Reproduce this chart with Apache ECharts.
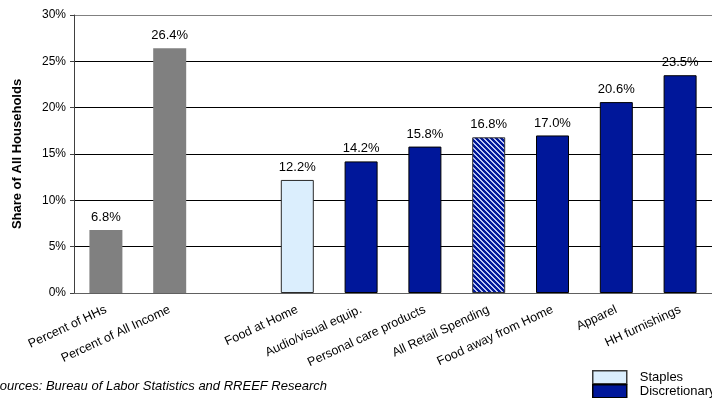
<!DOCTYPE html>
<html>
<head>
<meta charset="utf-8">
<script src="https://cdn.jsdelivr.net/npm/echarts@6/dist/echarts.min.js"></script>
<style>
  html, body { margin: 0; padding: 0; background: #fff; }
  #chart { width: 712px; height: 398px; }
</style>
</head>
<body>
<div id="chart"></div>
<script>
// Categories along the x axis (blank slot separates the benchmark bars)
const categories = [
  'Percent of HHs', 'Percent of All Income', '',
  'Food at Home', 'Audio/visual equip.', 'Personal care products',
  'All Retail Spending', 'Food away from Home', 'Apparel', 'HH furnishings'
];
// Share values (%) per group; '-' marks slots a group does not fill
const benchmarkValues     = [6.8, 26.4, '-', '-', '-', '-', '-', '-', '-', '-'];
const staplesValues       = ['-', '-', '-', 12.2, '-', '-', '-', '-', '-', '-'];
const discretionaryValues = ['-', '-', '-', '-', 14.2, 15.8, '-', 17.0, 20.6, 23.5];
const allRetailValues     = ['-', '-', '-', '-', '-', '-', 16.8, '-', '-', '-'];
const yTicks = [0, 5, 10, 15, 20, 25, 30];

const FONT = '"Liberation Sans", Arial, sans-serif';
const NAVY = '#00179a';

// Diagonal hatch for the all-retail bar
function hatchPattern() {
  const c = document.createElement('canvas');
  c.width = 5; c.height = 5;
  const ctx = c.getContext('2d');
  for (let x = 0; x < 5; x++) {
    for (let y = 0; y < 5; y++) {
      const k = ((x - y) % 5 + 5) % 5;
      ctx.fillStyle = k < 2 ? '#bcc6f2' : NAVY;
      ctx.fillRect(x, y, 1, 1);
    }
  }
  return c;
}

const valueLabel = {
  show: true,
  position: 'top',
  distance: 6,
  color: '#000',
  fontFamily: FONT,
  fontSize: 13,
  formatter: p => Number(p.value).toFixed(1) + '%'
};

const legendBase = {
  orient: 'vertical',
  left: 592,
  padding: 0,
  icon: 'rect',
  itemWidth: 34, itemHeight: 13,
  textStyle: { fontFamily: FONT, fontSize: 13, color: '#000', padding: [0, 0, 0, 8] }
};

const chart = echarts.init(document.getElementById('chart'), null, { renderer: 'canvas' });
chart.setOption({
  animation: false,
  backgroundColor: '#fff',
  grid: { left: 74, top: 15, right: -10, bottom: 105, containLabel: false },
  legend: [
    Object.assign({}, legendBase, {
      data: [{ name: 'Staples', itemStyle: { borderColor: '#3a3a3a', borderWidth: 1.5 } }],
      top: 370
    }),
    Object.assign({}, legendBase, {
      data: [{ name: 'Discretionary', itemStyle: { borderColor: '#000', borderWidth: 1.5 } }],
      top: 384
    })
  ],
  xAxis: {
    type: 'category',
    data: categories,
    axisLine: { lineStyle: { color: '#606060', width: 1 } },
    axisTick: { show: false },
    axisLabel: {
      interval: 0, rotate: 25, margin: 16,
      color: '#000', fontFamily: FONT, fontSize: 12.5
    }
  },
  yAxis: {
    type: 'value',
    min: yTicks[0], max: yTicks[yTicks.length - 1], interval: 5,
    name: 'Share of All Households',
    nameLocation: 'middle', nameRotate: 90, nameGap: 50,
    nameTextStyle: { fontFamily: FONT, fontSize: 13, fontWeight: 'bold', color: '#000' },
    axisLine: { show: true, lineStyle: { color: '#404040', width: 1 } },
    axisTick: { show: true, length: 4, lineStyle: { color: '#404040' } },
    axisLabel: {
      margin: 8, color: '#000', fontFamily: FONT, fontSize: 12,
      formatter: v => v + '%'
    },
    splitLine: {
      show: true,
      lineStyle: { color: ['#606060', '#000', '#000', '#000', '#000', '#000', '#808080'], width: 1 }
    }
  },
  series: [
    {
      name: 'Benchmark', type: 'bar', stack: 'share', barWidth: 33,
      data: benchmarkValues,
      itemStyle: { color: '#808080' },
      label: valueLabel
    },
    {
      name: 'Staples', type: 'bar', stack: 'share', barWidth: 33,
      data: staplesValues,
      itemStyle: { color: '#dbeefd', borderColor: '#2a2a2a', borderWidth: 1 },
      label: valueLabel
    },
    {
      name: 'Discretionary', type: 'bar', stack: 'share', barWidth: 33,
      data: discretionaryValues,
      itemStyle: { color: NAVY, borderColor: '#000', borderWidth: 1 },
      label: valueLabel
    },
    {
      name: 'All Retail', type: 'bar', stack: 'share', barWidth: 33,
      data: allRetailValues,
      itemStyle: { color: { image: hatchPattern(), repeat: 'repeat' }, borderColor: '#303030', borderWidth: 1 },
      label: valueLabel
    }
  ],
  graphic: [{
    type: 'text', left: -9, top: 380,
    style: {
      text: 'Sources: Bureau of Labor Statistics and RREEF Research',
      fontFamily: FONT, fontSize: 13, fontStyle: 'italic', fill: '#000'
    }
  }]
});
</script>
</body>
</html>
